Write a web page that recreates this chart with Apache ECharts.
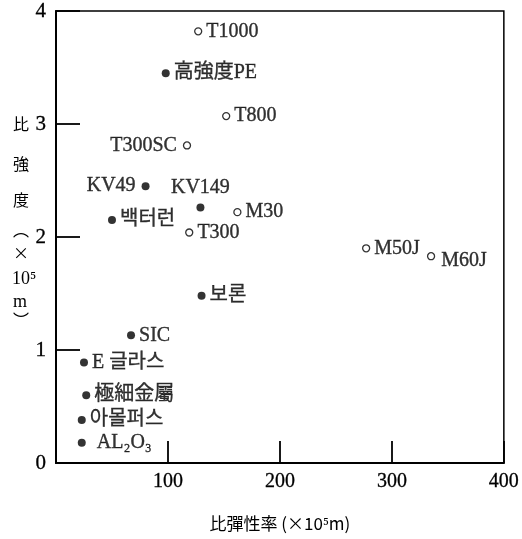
<!DOCTYPE html>
<html><head><meta charset="utf-8">
<script src="https://cdn.jsdelivr.net/npm/echarts@6/dist/echarts.min.js"></script>
<style>html,body{margin:0;padding:0;background:#fff}#c{width:522px;height:539px}</style>
</head><body><div id="c"></div>
<script>
// ---- data ----
const hollowNames = ['T1000','T800','T300SC','M30','T300','M50J','M60J'];
const hollowX = [127, 152, 117, 162, 119, 277, 335];
const hollowY = [3.82, 3.07, 2.81, 2.22, 2.04, 1.90, 1.83];
const filledNames = ['高強度PE','KV49','KV149','백터런','보론','SIC','E 글라스','極細金屬','아몰퍼스','AL₂O₃'];
const filledX = [98, 80, 129, 50, 130, 67, 25, 27, 23, 23];
const filledY = [3.45, 2.45, 2.26, 2.15, 1.48, 1.13, 0.89, 0.60, 0.38, 0.18];
const xTicks = [0, 100, 200, 300, 400];
const yTicks = [0, 1, 2, 3, 4];
const xName = '比彈性率 (×10⁵m)';
const yNameChars = ['比','強','度','︵','×','10⁵','m','︶'];

// ---- label placement (style only) ----
const labelPlace = {
  'T300SC': {position: 'left', distance: 6},
  'KV49': {position: 'left', distance: 6},
  'KV149': {position: 'top', distance: 6},
  'M60J': {position: 'right', distance: 6, offset: [0, 5]},
  'AL₂O₃': {position: 'right', distance: 11}
};
const font = '"Liberation Serif", "Noto Sans CJK KR", serif';

function build(names, xs, ys) {
  return names.map((n, i) => {
    const p = labelPlace[n] || {position: 'right', distance: 4};
    return {name: n, value: [xs[i], ys[i]], label: Object.assign({}, p)};
  });
}

const labelStyle = {show: true, formatter: '{b}', fontFamily: font, fontSize: 20, color: '#000',
  textBorderColor: '#000', textBorderWidth: 0.35};

const chart = echarts.init(document.getElementById('c'));
const yPos = [126, 166, 202, 232, 255, 280, 303, 322];
chart.setOption({
  animation: false,
  backgroundColor: '#fff',
  grid: {left: 56, right: 14, top: 11, bottom: 76, show: true, borderColor: '#000', borderWidth: 1.5},
  xAxis: {
    type: 'value', min: xTicks[0], max: xTicks[xTicks.length - 1], interval: 100,
    name: xName, nameLocation: 'middle', nameGap: 52,
    nameTextStyle: {fontFamily: '"Noto Sans CJK JP", "Liberation Serif", serif', fontSize: 17, color: '#000'},
    axisLine: {lineStyle: {color: '#000', width: 2}},
    axisTick: {inside: true, length: 22, lineStyle: {color: '#000', width: 1.8}},
    axisLabel: {fontFamily: font, fontSize: 20, color: '#000', margin: 9, showMinLabel: false,
      textBorderColor: '#000', textBorderWidth: 0.3},
    splitLine: {show: false}
  },
  yAxis: {
    type: 'value', min: yTicks[0], max: yTicks[yTicks.length - 1], interval: 1,
    axisLine: {lineStyle: {color: '#000', width: 2}},
    axisTick: {inside: true, length: 24, lineStyle: {color: '#000', width: 1.8}},
    axisLabel: {fontFamily: font, fontSize: 21, color: '#000', margin: 10,
      textBorderColor: '#000', textBorderWidth: 0.3},
    splitLine: {show: false}
  },
  graphic: yNameChars.map((ch, i) => ({
    type: 'text', left: 21 - (ch.length > 1 ? 9 : 8), top: yPos[i] - 10,
    style: {text: ch, font: (ch === '10⁵' || ch === 'm' ? '18px "Liberation Serif", serif' : '16px "Noto Sans CJK JP", sans-serif'), fill: '#000'}
  })),
  series: [
    {
      type: 'scatter', name: 'filled', symbol: 'circle', symbolSize: 8,
      itemStyle: {color: '#000'},
      label: labelStyle,
      data: build(filledNames, filledX, filledY)
    },
    {
      type: 'scatter', name: 'hollow', symbol: 'circle', symbolSize: 7,
      itemStyle: {color: '#fff', borderColor: '#000', borderWidth: 1.3},
      label: labelStyle,
      data: build(hollowNames, hollowX, hollowY)
    }
  ]
});
</script></body></html>
